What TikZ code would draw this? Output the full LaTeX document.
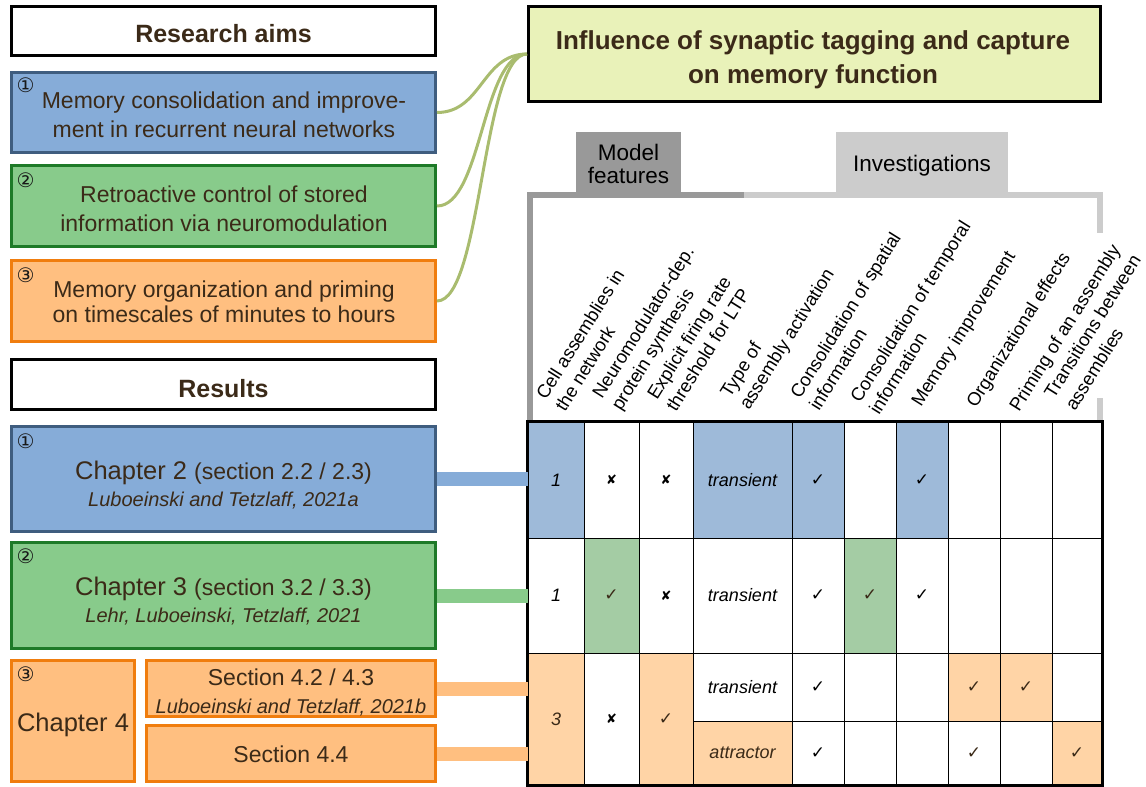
\documentclass[tikz,border=0pt]{standalone}
\usepackage{fontspec}
\setmainfont{Liberation Sans}
\newfontfamily\symf{DejaVu Sans}
\definecolor{txt}{HTML}{3B2A18}
\definecolor{bluefill}{HTML}{86ACD8}
\definecolor{blueline}{HTML}{3F5D7F}
\definecolor{greenfill}{HTML}{88CB8B}
\definecolor{greenline}{HTML}{1E7A28}
\definecolor{orfill}{HTML}{FFBF80}
\definecolor{orline}{HTML}{F07D0E}
\definecolor{titlefill}{HTML}{E9F2B9}
\definecolor{curvecol}{HTML}{A9BC6F}
\definecolor{tblue}{HTML}{9EBAD9}
\definecolor{tgreen}{HTML}{A4CCA4}
\definecolor{tor}{HTML}{FFD4A6}
\definecolor{mfgray}{HTML}{999999}
\definecolor{invgray}{HTML}{CCCCCC}
\newcommand\mychk{{\symf\upshape\fontsize{17}{17}\selectfont ✓}}
\newcommand\myxmk{{\symf\upshape\fontsize{13}{13}\selectfont ✘}}
\begin{document}
\begin{tikzpicture}[x=1pt,y=-1pt,
  box/.style={rectangle, draw, line width=3pt, inner sep=0pt, text=txt, align=center},
  lbl/.style={inner sep=0pt, anchor=base, text=txt},
  num/.style={inner sep=0pt, font=\symf\fontsize{20}{20}\selectfont, text=black!90},
  hlab/.style={rotate=58, anchor=base west, inner sep=0pt, font=\fontsize{18.5}{22}\selectfont},
  cell/.style={rectangle, draw=black, line width=1pt, inner sep=0pt, font=\fontsize{18}{18}\selectfont\itshape},
  brown/.style={text=txt},
  k1/.style={minimum width=56pt}, k2/.style={minimum width=55pt}, k3/.style={minimum width=54pt},
  k4/.style={minimum width=99pt}, k5/.style={minimum width=52pt}, k10/.style={minimum width=50pt},
  ra/.style={minimum height=116pt}, rb/.style={minimum height=115pt},
  rs/.style={minimum height=132pt}, rc/.style={minimum height=68pt}, rd/.style={minimum height=64pt},
  curve/.style={draw=curvecol, line width=3pt},
  bar/.style={line width=14pt},
  frame/.style={line width=6pt},
]
\useasboundingbox (0,0) rectangle (1146,787);

% ---------- left column: research aims ----------
\node[box, minimum width=424pt, minimum height=49pt] (aims) at (223.5,31) {};
\node[lbl, font=\bfseries\fontsize{25}{25}\selectfont] (aimsT) at (223.5,42) {Research aims};

\node[box, fill=bluefill, draw=blueline, minimum width=424pt, minimum height=80pt] (aim1) at (223.5,112.5) {};
\node[lbl, font=\fontsize{23}{23}\selectfont] (aim1a) at (224,108) {Memory consolidation and improve-};
\node[lbl, font=\fontsize{23}{23}\selectfont] (aim1b) at (224,137) {ment in recurrent neural networks};
\node[num] (n1) at (25.5,85) {①};
\node[box, fill=greenfill, draw=greenline, minimum width=424pt, minimum height=81pt] (aim2) at (223.5,206) {};
\node[lbl, font=\fontsize{23}{23}\selectfont] (aim2a) at (224,202) {Retroactive control of stored};
\node[lbl, font=\fontsize{23}{23}\selectfont] (aim2b) at (224,231) {information via neuromodulation};
\node[num] (n2) at (25.5,180) {②};
\node[box, fill=orfill, draw=orline, minimum width=424pt, minimum height=81pt] (aim3) at (223.5,301) {};
\node[lbl, font=\fontsize{23}{23}\selectfont] (aim3a) at (224,297) {Memory organization and priming};
\node[lbl, font=\fontsize{23}{23}\selectfont] (aim3b) at (224,322) {on timescales of minutes to hours};
\node[num] (n3) at (25.5,275) {③};

% ---------- left column: results ----------
\node[box, minimum width=424pt, minimum height=50pt] (res) at (223.5,384.5) {};
\node[lbl, font=\bfseries\fontsize{25}{25}\selectfont] (resT) at (223.5,397) {Results};

\node[box, fill=bluefill, draw=blueline, minimum width=424pt, minimum height=105pt] (ch2) at (223.5,479) {};
\node[num] (n4) at (25.5,441) {①};
\node[lbl, font=\fontsize{25.5}{25.5}\selectfont] (ch2a) at (223.5,479) {Chapter 2 {\fontsize{23}{23}\selectfont(section 2.2 / 2.3)}};
\node[lbl, font=\itshape\fontsize{20}{20}\selectfont] (ch2b) at (223.5,506) {Luboeinski and Tetzlaff, 2021a};

\node[box, fill=greenfill, draw=greenline, minimum width=424pt, minimum height=106pt] (ch3) at (223.5,595.5) {};
\node[num] (n5) at (25.5,556) {②};
\node[lbl, font=\fontsize{25.5}{25.5}\selectfont] (ch3a) at (223.5,595) {Chapter 3 {\fontsize{23}{23}\selectfont(section 3.2 / 3.3)}};
\node[lbl, font=\itshape\fontsize{20}{20}\selectfont] (ch3b) at (223.5,622) {Lehr, Luboeinski, Tetzlaff, 2021};

\node[box, fill=orfill, draw=orline, minimum width=123pt, minimum height=121pt] (ch4) at (73,721) {};
\node[num] (n6) at (25.5,674) {③};
\node[lbl, font=\fontsize{25.5}{25.5}\selectfont] (ch4a) at (73,731) {Chapter 4};

\node[box, fill=orfill, draw=orline, minimum width=289pt, minimum height=56pt] (s43) at (291,688.5) {};
\node[lbl, font=\fontsize{23}{23}\selectfont] (s43a) at (291,685) {Section 4.2 / 4.3};
\node[lbl, font=\itshape\fontsize{20}{20}\selectfont] (s43b) at (291,713) {Luboeinski and Tetzlaff, 2021b};

\node[box, fill=orfill, draw=orline, minimum width=289pt, minimum height=56pt] (s44) at (291,753.5) {};
\node[lbl, font=\fontsize{23}{23}\selectfont] (s44a) at (291,762) {Section 4.4};

% ---------- title ----------
\node[box, draw=black, fill=titlefill, minimum width=572pt, minimum height=95pt] (title) at (814.5,54) {};
\node[lbl, font=\bfseries\fontsize{26}{26}\selectfont] (titleA) at (813,49.5) {Influence of synaptic tagging and capture};
\node[lbl, font=\bfseries\fontsize{26}{26}\selectfont] (titleB) at (813,83) {on memory function};

% curves
\draw[curve] (aim1.east) .. controls +(45,0) and +(-45,0) .. (title.west);
\draw[curve] (aim2.east) .. controls +(45,0) and +(-45,0) .. (title.west);
\draw[curve] (aim3.east) .. controls +(45,0) and +(-45,0) .. (title.west);

% ---------- table header ----------
\node[fill=mfgray, minimum width=105pt, minimum height=60pt, inner sep=0pt] (mf) at (628.5,162) {};
\node[lbl, text=black, font=\fontsize{22.5}{22.5}\selectfont] (mfA) at (628.5,160) {Model};
\node[lbl, text=black, font=\fontsize{22.5}{22.5}\selectfont] (mfB) at (628.5,183) {features};
\node[fill=invgray, minimum width=172pt, minimum height=60pt, inner sep=0pt] (inv) at (922,162) {};
\node[lbl, text=black, font=\fontsize{22.5}{22.5}\selectfont] (invA) at (922,171) {Investigations};
\draw[frame, mfgray] (530,422) -- (530,195) -- (744,195);
\draw[frame, invgray] (744,195) -- (1100,195) -- (1100,233);
\draw[frame, invgray] (1100,398) -- (1100,422);

\begin{scope}[shift={(6,4)}]
\node[hlab] (h1a) at (540,397) {Cell assemblies in};
\node[hlab] (h1b) at (559,409) {the network};
\node[hlab] (h2a) at (596,396) {Neuromodulator-dep.};
\node[hlab] (h2b) at (615,408) {protein synthesis};
\node[hlab] (h3a) at (651,397) {Explicit firing rate};
\node[hlab] (h3b) at (670,409) {threshold for LTP};
\node[hlab] (h4a) at (724,395) {Type of};
\node[hlab] (h4b) at (743,407) {assembly activation};
\node[hlab] (h5a) at (794,396) {Consolidation of spatial};
\node[hlab] (h5b) at (813,408) {information};
\node[hlab] (h6a) at (854,400) {Consolidation of temporal};
\node[hlab] (h6b) at (873,412) {information};
\node[hlab] (h7) at (915,404) {Memory improvement};
\node[hlab] (h8) at (970,405) {Organizational effects};
\node[hlab] (h9) at (1013,409) {Priming of an assembly};
\end{scope}
\node[hlab] (h10a) at (1054,400) {Transitions between};
\node[hlab] (h10b) at (1075,412) {assemblies};

% ---------- table body ----------
% row 1
\node[cell, k1, ra, fill=tblue] (r1c1) at (556,480) {1};
\node[cell, k2, ra] (r1c2) at (611.5,480) {\myxmk};
\node[cell, k3, ra] (r1c3) at (666,480) {\myxmk};
\node[cell, k4, ra, fill=tblue] (r1c4) at (742.5,480) {transient};
\node[cell, k5, ra, fill=tblue] (r1c5) at (818,480) {\mychk};
\node[cell, k5, ra] (r1c6) at (870,480) {};
\node[cell, k5, ra, fill=tblue] (r1c7) at (922,480) {\mychk};
\node[cell, k5, ra] (r1c8) at (974,480) {};
\node[cell, k5, ra] (r1c9) at (1026,480) {};
\node[cell, k10, ra] (r1c10) at (1077,480) {};
% row 2
\node[cell, k1, rb] (r2c1) at (556,595.5) {1};
\node[cell, k2, rb, fill=tgreen, brown] (r2c2) at (611.5,595.5) {\mychk};
\node[cell, k3, rb] (r2c3) at (666,595.5) {\myxmk};
\node[cell, k4, rb] (r2c4) at (742.5,595.5) {transient};
\node[cell, k5, rb] (r2c5) at (818,595.5) {\mychk};
\node[cell, k5, rb, fill=tgreen, brown] (r2c6) at (870,595.5) {\mychk};
\node[cell, k5, rb] (r2c7) at (922,595.5) {\mychk};
\node[cell, k5, rb] (r2c8) at (974,595.5) {};
\node[cell, k5, rb] (r2c9) at (1026,595.5) {};
\node[cell, k10, rb] (r2c10) at (1077,595.5) {};
% row 3 (spanning columns)
\node[cell, k1, rs, fill=tor, brown] (r3c1) at (556,719) {3};
\node[cell, k2, rs] (r3c2) at (611.5,719) {\myxmk};
\node[cell, k3, rs, fill=tor, brown] (r3c3) at (666,719) {\mychk};
% row 3a
\node[cell, k4, rc] (r3ac4) at (742.5,687) {transient};
\node[cell, k5, rc] (r3ac5) at (818,687) {\mychk};
\node[cell, k5, rc] (r3ac6) at (870,687) {};
\node[cell, k5, rc] (r3ac7) at (922,687) {};
\node[cell, k5, rc, fill=tor, brown] (r3ac8) at (974,687) {\mychk};
\node[cell, k5, rc, fill=tor, brown] (r3ac9) at (1026,687) {\mychk};
\node[cell, k10, rc] (r3ac10) at (1077,687) {};
% row 3b
\node[cell, k4, rd, fill=tor, brown] (r3bc4) at (742.5,753) {attractor};
\node[cell, k5, rd] (r3bc5) at (818,753) {\mychk};
\node[cell, k5, rd] (r3bc6) at (870,753) {};
\node[cell, k5, rd] (r3bc7) at (922,753) {};
\node[cell, k5, rd, brown] (r3bc8) at (974,753) {\mychk};
\node[cell, k5, rd] (r3bc9) at (1026,753) {};
\node[cell, k10, rd, fill=tor, brown] (r3bc10) at (1077,753) {\mychk};

\draw[line width=3.5pt] (r1c1.north west) rectangle (r3bc10.south east);

% connector bars
\draw[bar, bluefill] (ch2.east) -- (ch2.east -| r1c1.west);
\draw[bar, greenfill] (ch3.east) -- (ch3.east -| r2c1.west);
\draw[bar, orfill] (s43.east) -- (s43.east -| r3c1.west);
\draw[bar, orfill] (s44.east) -- (s44.east -| r3c1.west);
\end{tikzpicture}
\end{document}
